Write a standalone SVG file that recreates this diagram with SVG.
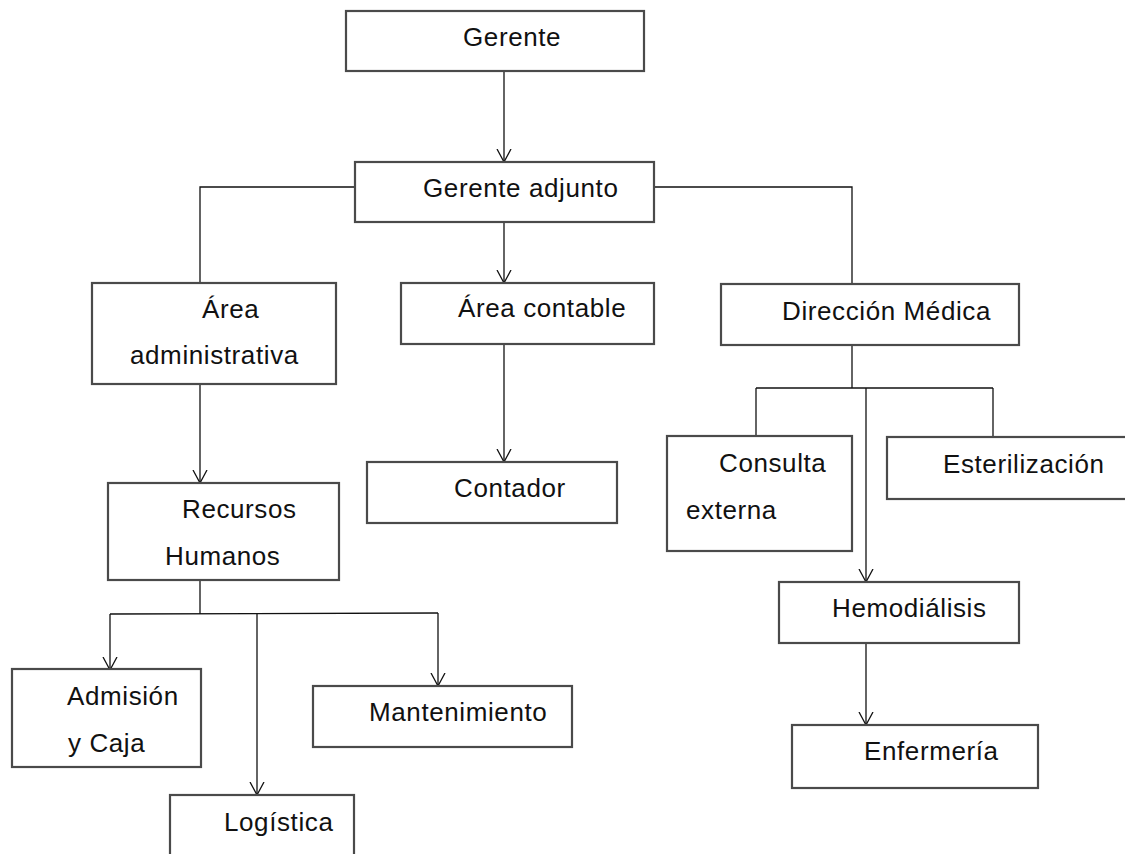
<svg xmlns="http://www.w3.org/2000/svg" width="1125" height="854" viewBox="0 0 1125 854">
<style>
.box{fill:#fff;stroke:#4a4a4a;stroke-width:2.2}
.lbl{font-family:"Liberation Sans",Arial,sans-serif;font-size:26px;letter-spacing:0.6px;fill:#111}
.con{fill:none;stroke:#111;stroke-width:1.3}
</style>
<defs>
<marker id="arr" markerUnits="userSpaceOnUse" viewBox="0 0 14 16" refX="13" refY="8" markerWidth="14" markerHeight="16" orient="auto">
<path d="M0,1 L13,8 L0,15" fill="none" stroke="#111" stroke-width="1.3"/>
</marker>
</defs>
<rect width="1125" height="854" fill="#fff"/>
<g id="connectors">
<line class="con" x1="504" y1="71" x2="504" y2="162" marker-end="url(#arr)"/>
<polyline class="con" points="355,187 200,187 200,283"/>
<line class="con" x1="504" y1="222" x2="504" y2="283" marker-end="url(#arr)"/>
<polyline class="con" points="654,187 852,187 852,284"/>
<line class="con" x1="504" y1="344" x2="504" y2="462" marker-end="url(#arr)"/>
<line class="con" x1="200" y1="384" x2="200" y2="483" marker-end="url(#arr)"/>
<line class="con" x1="200" y1="580" x2="200" y2="614"/>
<line class="con" x1="110" y1="614" x2="438" y2="613"/>
<line class="con" x1="110" y1="614" x2="110" y2="670" marker-end="url(#arr)"/>
<line class="con" x1="257" y1="614" x2="257" y2="795" marker-end="url(#arr)"/>
<line class="con" x1="438" y1="613" x2="438" y2="686" marker-end="url(#arr)"/>
<line class="con" x1="852" y1="345" x2="852" y2="388"/>
<line class="con" x1="756" y1="388" x2="993" y2="388"/>
<line class="con" x1="756" y1="388" x2="756" y2="438"/>
<line class="con" x1="993" y1="388" x2="993" y2="445"/>
<line class="con" x1="866" y1="388" x2="866" y2="582" marker-end="url(#arr)"/>
<line class="con" x1="866" y1="643" x2="866" y2="725" marker-end="url(#arr)"/>
</g>
<g id="gerente"><rect class="box" x="346" y="11" width="298" height="60"/><text class="lbl" x="463" y="46">Gerente</text></g>
<g id="gerente-adjunto"><rect class="box" x="355" y="162" width="299" height="60"/><text class="lbl" x="423" y="197">Gerente adjunto</text></g>
<g id="area-administrativa"><rect class="box" x="92" y="283" width="244" height="101"/><text class="lbl" x="202" y="318">Área</text><text class="lbl" x="130" y="364">administrativa</text></g>
<g id="area-contable"><rect class="box" x="401" y="283" width="253" height="61"/><text class="lbl" x="458" y="317">Área contable</text></g>
<g id="direccion-medica"><rect class="box" x="721" y="284" width="298" height="61"/><text class="lbl" x="782" y="320">Dirección Médica</text></g>
<g id="contador"><rect class="box" x="367" y="462" width="250" height="61"/><text class="lbl" x="454" y="497">Contador</text></g>
<g id="recursos-humanos"><rect class="box" x="108" y="483" width="231" height="97"/><text class="lbl" x="182" y="518">Recursos</text><text class="lbl" x="165" y="565">Humanos</text></g>
<g id="consulta-externa"><rect class="box" x="667" y="436" width="185" height="115"/><text class="lbl" x="719" y="472">Consulta</text><text class="lbl" x="686" y="519">externa</text></g>
<g id="esterilizacion"><rect class="box" x="887" y="437" width="245" height="62"/><text class="lbl" x="943" y="473">Esterilización</text></g>
<g id="hemodialisis"><rect class="box" x="779" y="582" width="240" height="61"/><text class="lbl" x="832" y="617">Hemodiálisis</text></g>
<g id="enfermeria"><rect class="box" x="792" y="725" width="246" height="63"/><text class="lbl" x="864" y="760">Enfermería</text></g>
<g id="admision-caja"><rect class="box" x="12" y="669" width="189" height="98"/><text class="lbl" x="67" y="705">Admisión</text><text class="lbl" x="68" y="752">y Caja</text></g>
<g id="mantenimiento"><rect class="box" x="313" y="686" width="259" height="61"/><text class="lbl" x="369" y="721">Mantenimiento</text></g>
<g id="logistica"><rect class="box" x="170" y="795" width="184" height="75"/><text class="lbl" x="224" y="831">Logística</text></g>
</svg>
